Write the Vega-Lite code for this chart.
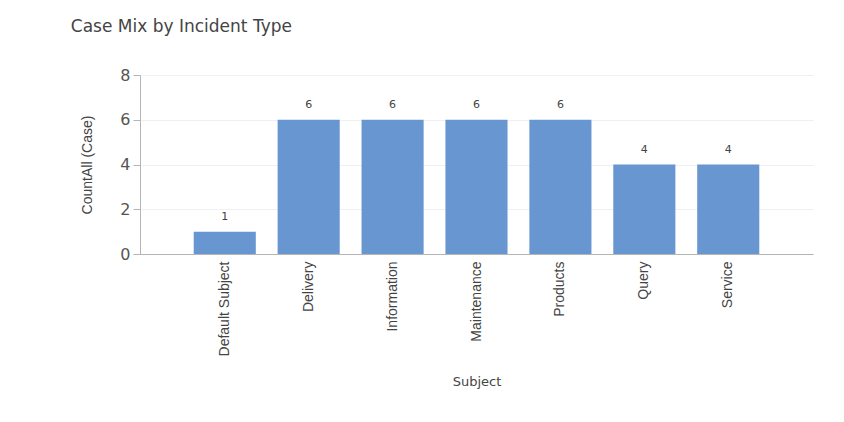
{
  "$schema": "https://vega.github.io/schema/vega-lite/v6.json",
  "autosize": {"type": "none"},
  "width": 673,
  "height": 179,
  "padding": {"left": 140, "top": 75, "right": 31, "bottom": 168},
  "background": "white",
  "title": {
    "text": "Case Mix by Incident Type",
    "anchor": "start",
    "dx": -10,
    "offset": 31,
    "font": "DejaVu Sans",
    "fontSize": 17,
    "fontWeight": "normal",
    "color": "#444444"
  },
  "data": {
    "values": [
      {"Subject": "Default Subject", "Count": 1},
      {"Subject": "Delivery", "Count": 6},
      {"Subject": "Information", "Count": 6},
      {"Subject": "Maintenance", "Count": 6},
      {"Subject": "Products", "Count": 6},
      {"Subject": "Query", "Count": 4},
      {"Subject": "Service", "Count": 4}
    ]
  },
  "encoding": {
    "x": {
      "field": "Subject",
      "type": "nominal",
      "sort": null,
      "scale": {"paddingInner": 0.26, "paddingOuter": 0.64},
      "axis": {
        "title": "Subject",
        "labelAngle": -90,
        "labelFont": "Liberation Sans",
        "labelFontSize": 14,
        "labelColor": "#444444",
        "labelPadding": 7,
        "ticks": false,
        "domainColor": "#b5b5b5",
        "titleFont": "DejaVu Sans",
        "titleFontSize": 13,
        "titleFontWeight": "normal",
        "titleColor": "#444444",
        "titlePadding": 20
      }
    },
    "y": {
      "field": "Count",
      "type": "quantitative",
      "scale": {"domain": [0, 8]},
      "axis": {
        "title": "CountAll (Case)",
        "values": [0, 2, 4, 6, 8],
        "labelFont": "DejaVu Sans",
        "labelFontSize": 16,
        "labelColor": "#555555",
        "labelPadding": 3,
        "tickSize": 7,
        "tickColor": "#b5b5b5",
        "domainColor": "#b5b5b5",
        "gridColor": "#eef0f4",
        "titleFont": "Liberation Sans",
        "titleFontSize": 14,
        "titleFontWeight": "normal",
        "titleColor": "#444444",
        "titlePadding": 25
      }
    }
  },
  "layer": [
    {"mark": {"type": "bar", "color": "#6896d0"}},
    {
      "mark": {
        "type": "text",
        "baseline": "alphabetic",
        "dy": -12,
        "font": "DejaVu Sans",
        "fontSize": 11,
        "color": "#444444"
      },
      "encoding": {"text": {"field": "Count", "type": "quantitative"}}
    }
  ],
  "config": {"view": {"stroke": null}}
}
